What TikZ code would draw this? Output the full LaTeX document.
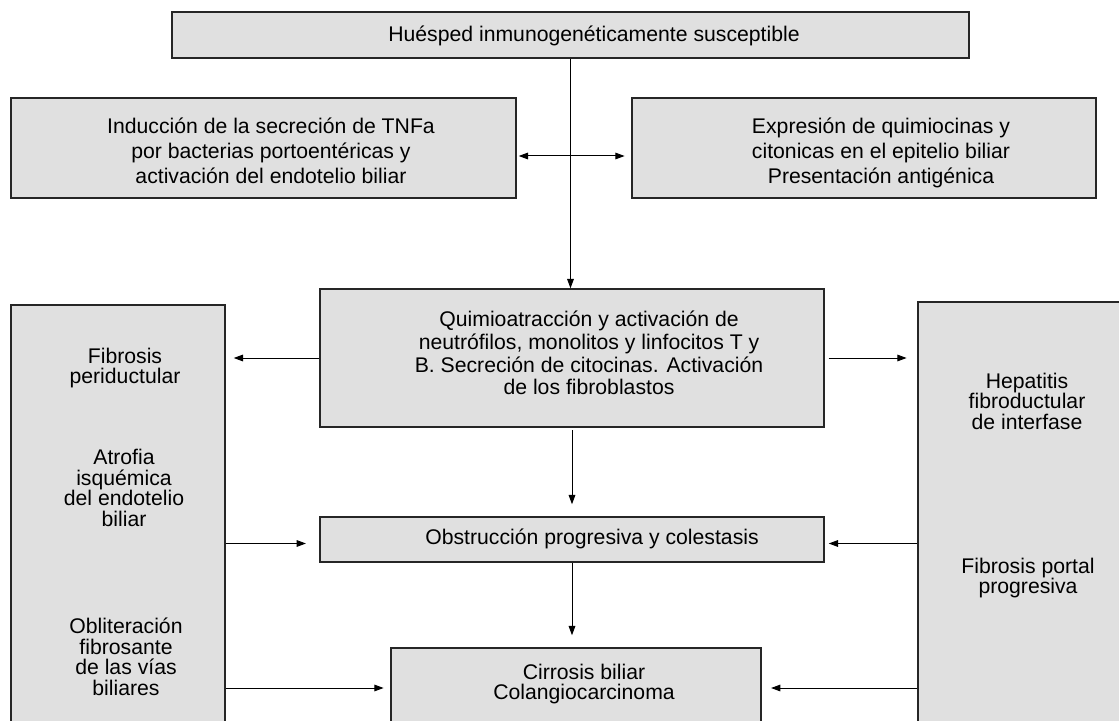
\documentclass[tikz,border=0pt]{standalone}
\usepackage{fontspec}
\setmainfont{Liberation Sans}
\usetikzlibrary{arrows.meta}
\definecolor{boxgray}{HTML}{E0E0E0}

\tikzset{every picture/.style={line width=0.75pt}}
\tikzset{
  rbox/.style={draw=black!85, fill=boxgray, line width=1.1pt, inner sep=0pt},
  conn/.style={-{Triangle[length=7pt,width=5pt]}, line width=0.75pt},
  lbl/.style={inner sep=0.75pt, align=center, font=\fontsize{15.9}{15.4}\selectfont},
  lblwide/.style={lbl, font=\fontsize{15.9}{18.75}\selectfont},
}

\begin{document}
\begin{tikzpicture}[x=0.75pt,y=0.75pt,yscale=-1,xscale=1]
\useasboundingbox (0,0) rectangle (1119,720);
\clip (0,0) rectangle (1119,720);

%Shape: Rectangle [huesped]
\node [rbox, minimum width=597.75pt, minimum height=34.5pt] (hues) at (570.5,35) {};
%Shape: Rectangle [induccion]
\node [rbox, minimum width=378.75pt, minimum height=75pt] (ind) at (263.5,148) {};
%Shape: Rectangle [expresion]
\node [rbox, minimum width=348pt, minimum height=75pt] (exp) at (864,148) {};
%Shape: Rectangle [quimioatraccion]
\node [rbox, minimum width=378pt, minimum height=103.5pt] (qui) at (572,358) {};
%Shape: Rectangle [obstruccion]
\node [rbox, minimum width=378pt, minimum height=33.75pt] (obs) at (572,539.5) {};
%Shape: Rectangle [cirrosis]
\node [rbox, minimum width=277.5pt, minimum height=84pt] (cir) at (576,704) {};
%Shape: Rectangle [left column]
\node [rbox, minimum width=160.5pt, minimum height=356.25pt] (lcol) at (118,542.5) {};
%Shape: Rectangle [right column]
\node [rbox, minimum width=166.5pt, minimum height=358.5pt] (rcol) at (1029,541) {};

\coordinate (ydbl) at (0,156);
\coordinate (yobs) at (0,543.5);
\coordinate (ycir) at (0,688);

%Straight Lines
\draw [conn] (hues.south) -- (hues.south |- qui.north);
\draw [conn, {Triangle[length=7pt,width=5pt]}-{Triangle[length=7pt,width=5pt]}, shorten <=1.5pt, shorten >=5pt] (ydbl -| ind.east) -- (ydbl -| exp.west);
\draw [conn, shorten >=6pt] (qui.west) -- (qui.west -| lcol.east);
\draw [conn, shorten <=3pt, shorten >=8pt] (qui.east) -- (qui.east -| rcol.west);
\draw [conn, shorten <=2pt, shorten >=9pt] (qui.south) -- (qui.south |- obs.north);
\draw [conn, shorten >=9pt] (obs.south) -- (obs.south |- cir.north);
\draw [conn, shorten >=10pt] (yobs -| lcol.east) -- (yobs -| obs.west);
\draw [conn, shorten >=3pt] (yobs -| rcol.west) -- (yobs -| obs.east);
\draw [conn, shorten >=5pt] (ycir -| lcol.east) -- (ycir -| cir.west);
\draw [conn, shorten >=7pt] (ycir -| rcol.west) -- (ycir -| cir.east);

% Text Node
\draw (594,36) node [lbl] (t-hues) {Huésped inmunogenéticamente susceptible};
% Text Node
\draw (271,151) node [lblwide] (t-ind) {Inducción de la secreción de TNFa\\por bacterias portoentéricas y\\activación del endotelio biliar};
% Text Node
\draw (881,153) node [lblwide] (t-exp) {Expresión de quimiocinas y\\citonicas en el epitelio biliar\\Presentación antigénica};
% Text Node
\draw (589,353) node [lbl, font=\fontsize{15.9}{17}\selectfont] (t-qui) {Quimioatracción y activación de\\neutrófilos, monolitos y linfocitos T y\\B. Secreción de citocinas. Activación\\de los fibroblastos};
% Text Node
\draw (592,539) node [lbl] (t-obs) {Obstrucción progresiva y colestasis};
% Text Node
\draw (584,684) node [lbl, font=\fontsize{15.9}{14.6}\selectfont] (t-cir) {Cirrosis biliar\\Colangiocarcinoma};
% Text Node
\draw (125,368) node [lbl] (t-fib) {Fibrosis\\periductular};
% Text Node
\draw (124,488) node [lbl] (t-atr) {Atrofia\\isquémica\\del endotelio\\biliar};
% Text Node
\draw (126,657) node [lbl] (t-obl) {Obliteración\\fibrosante\\de las vías\\biliares};
% Text Node
\draw (1027,401) node [lbl] (t-hep) {Hepatitis\\fibroductular\\de interfase};
% Text Node
\draw (1028,578) node [lbl] (t-fpp) {Fibrosis portal\\progresiva};

\end{tikzpicture}
\end{document}
